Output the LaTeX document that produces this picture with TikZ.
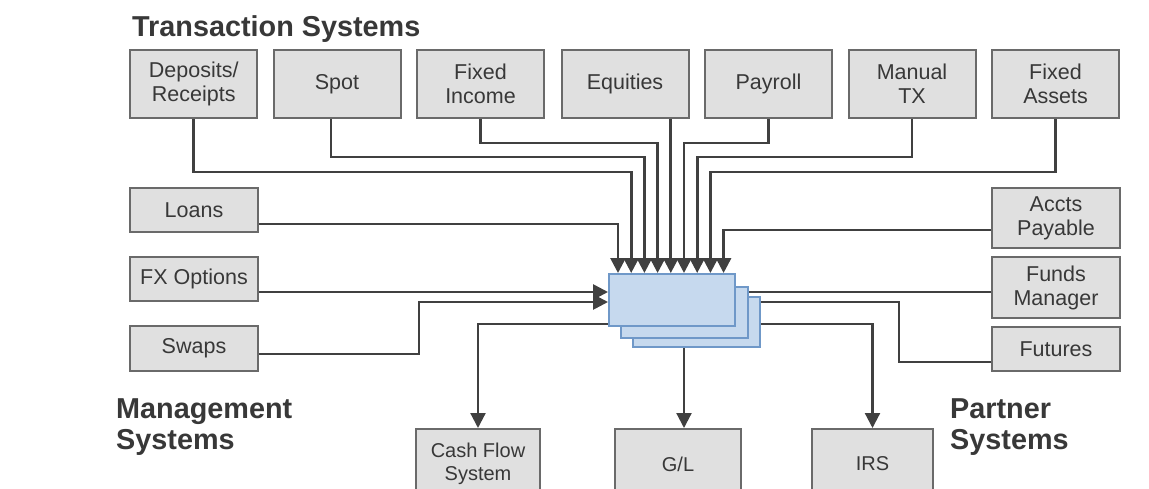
\documentclass[tikz,border=0pt]{standalone}
\usepackage{fontspec}
\setmainfont{Liberation Sans}
\usetikzlibrary{arrows.meta,calc}

\definecolor{boxfill}{HTML}{E0E0E0}
\definecolor{boxline}{HTML}{6A6A6A}
\definecolor{wire}{HTML}{404040}
\definecolor{ink}{HTML}{383838}
\definecolor{stackfill}{HTML}{C6D9EE}
\definecolor{stackline}{HTML}{6F98C8}

\begin{document}
\begin{tikzpicture}[x=1pt,y=-1pt,
  sysbox/.style={draw=boxline, fill=boxfill, line width=2pt, rectangle,
    align=center, text=ink, font=\fontsize{21.5}{24}\selectfont, inner sep=0pt},
  layer/.style={draw=stackline, fill=stackfill, line width=2pt, rectangle, inner sep=0pt},
  wireline/.style={draw=wire, line width=2.7pt},
  arr/.style={wireline, -{Triangle[width=15pt,length=15pt]}},
  group/.style={font=\fontsize{28.8}{31}\selectfont\bfseries, text=ink,
    align=left, inner sep=0pt}
]
% canvas
\fill[white] (0,0) rectangle (1149,488);
\clip (0,0) rectangle (1149,488);

% group captions
\node[group, anchor=base west] (ttrans) at (132,36) {Transaction Systems};
\node[group, anchor=base west] (tmgmt1) at (116,418) {Management};
\node[group, anchor=base west] (tmgmt2) at (116,449) {Systems};
\node[group, anchor=base west] (tpart1) at (950,418) {Partner};
\node[group, anchor=base west] (tpart2) at (950,449) {Systems};

% transaction systems row
\tikzset{top/.style={sysbox, minimum width=127pt, minimum height=68pt}}
\node[top] (dep) at (193.7,84) {Deposits/\\Receipts};
\node[top] (spot) at (337,84) {Spot};
\node[top] (fix) at (480.5,84) {Fixed\\Income};
\node[top] (equ) at (625,84) {Equities};
\node[top] (pay) at (768.5,84) {Payroll};
\node[top] (man) at (912,84) {Manual\\TX};
\node[top] (fa) at (1055.5,84) {Fixed\\Assets};

% management systems column
\tikzset{side/.style={sysbox, minimum width=128pt}}
\node[side, minimum height=44pt] (loans) at (194,210) {Loans};
\node[side, minimum height=44pt] (fx) at (194,279) {FX Options};
\node[side, minimum height=45pt] (swaps) at (194,348.5) {Swaps};

% partner systems column
\node[side, minimum height=60pt] (ap) at (1056,218) {Accts\\Payable};
\node[side, minimum height=61pt] (fm) at (1056,287.5) {Funds\\Manager};
\node[side, minimum height=44pt] (fut) at (1056,349) {Futures};

% receiving systems along the bottom
\tikzset{low/.style={sysbox, minimum height=70pt, font=\fontsize{20}{23}\selectfont}}
\node[low, minimum width=124pt] (cf) at (478,464) {Cash Flow\\System};
\node[low, minimum width=126pt] (gl) at (678,464) {G/L};
\node[low, minimum width=121pt] (irs) at (872.5,464) {IRS};

% stacked hub
\node[layer, minimum width=127pt, minimum height=50pt] (back) at (696.5,322) {};
\node[layer, minimum width=127pt, minimum height=51pt] (mid) at (684.5,312.5) {};
\node[layer, minimum width=126pt, minimum height=52pt] (front) at (672,300) {};

% arrow tips along the hub's top edge
\foreach \k in {1,...,9}
  \coordinate (a\k) at ({618+13.2*(\k-1)},273);

% feeds from above
\draw[arr] (loans.east |- 0,224) -| (a1);
\draw[arr] (dep.south) |- (a2 |- 0,172) -- (a2);
\draw[arr] ($(spot.south)+(-6,0)$) |- (a3 |- 0,157) -- (a3);
\draw[arr] (fix.south) |- (a4 |- 0,143) -- (a4);
\draw[arr] (equ.south -| a5) -- (a5);
\draw[arr] (pay.south) |- (a6 |- 0,143) -- (a6);
\draw[arr] (man.south) |- (a7 |- 0,157) -- (a7);
\draw[arr] (fa.south) |- (a8 |- 0,172) -- (a8);
\draw[arr] (ap.west |- 0,230) -| (a9);

% feeds from the left
\draw[arr] (fx.east |- 0,292) -- (front.west |- 0,292);
\draw[arr] (swaps.east |- 0,354) -| (419,302) -- (front.west |- 0,302);

% partner links
\draw[wireline, line width=2.2pt] (fm.west |- 0,292) -- (mid.east |- 0,292);
\draw[wireline, line width=2.2pt] (fut.west |- 0,362) -| (899,302) -- (back.east |- 0,302);

% outputs
\draw[arr, line width=2.2pt] (front.west |- 0,324) -| (cf.north);
\draw[arr, line width=2.2pt] ($(back.south)+(-12.5,0)$) -- ($(gl.north)+(6,0)$);
\draw[arr, line width=2.2pt] (back.east |- 0,324) -| (irs.north);
\end{tikzpicture}
\end{document}
